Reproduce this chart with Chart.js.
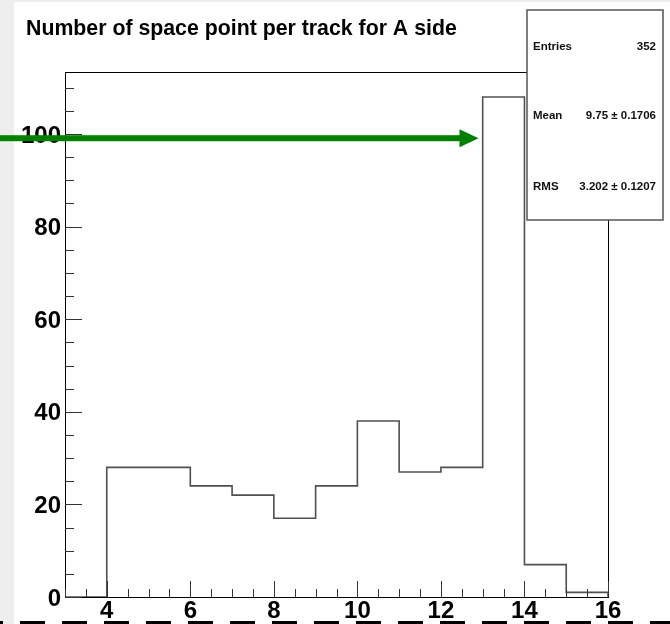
<!DOCTYPE html>
<html>
<head>
<meta charset="utf-8">
<script src="https://cdn.jsdelivr.net/npm/chart.js@4/dist/chart.umd.min.js"></script>
<style>
html,body{margin:0;padding:0;background:#fff;}
#wrap{position:absolute;left:0;top:0;width:670px;height:624px;}
</style>
</head>
<body>
<div id="wrap"><canvas id="c" width="670" height="624"></canvas></div>
<script>
// ---- data ----
const binLowEdges = [3, 4, 5, 6, 7, 8, 9, 10, 11, 12, 13, 14, 15];
const binCounts   = [0, 28, 28, 24, 22, 17, 24, 38, 27, 28, 108, 7, 1];
const xUpperEdge  = 16;
const xTickLabels = [4, 6, 8, 10, 12, 14, 16];
const yTickLabels = [0, 20, 40, 60, 80, 100];
const xMinorStep = 0.5;
const yMinorStep = 5;
const yMax = 113.4;
const titleText = "Number of space point per track for A side";
const statsNames  = ["Entries", "Mean", "RMS"];
const statsValues = ["352", "9.75 \u00b1 0.1706", "3.202 \u00b1 0.1207"];
const arrowValueY = 99.1;
const arrowTipX = 12.9;

// build histogram outline points (each bin: low edge -> count)
const histPoints = [];
binLowEdges.forEach((x, i) => {
  histPoints.push({x: x, y: i === 0 ? 0 : binCounts[i - 1]});
  histPoints.push({x: x, y: binCounts[i]});
});
histPoints.push({x: xUpperEdge, y: binCounts[binCounts.length - 1]});
histPoints.push({x: xUpperEdge, y: 0});

const FONT = "'Liberation Sans', Arial, Helvetica, sans-serif";

const decor = {
  id: 'decor',
  beforeDraw(chart) {
    const ctx = chart.ctx;
    ctx.save();
    ctx.fillStyle = '#ffffff';
    ctx.fillRect(0, 0, chart.width, chart.height);
    ctx.fillStyle = '#eeeeee';
    ctx.fillRect(0, 0, 14, chart.height);
    ctx.fillRect(0, 0, chart.width, 2);
    // title
    ctx.fillStyle = '#000';
    ctx.font = "bold 21.3px " + FONT;
    ctx.textBaseline = 'alphabetic';
    ctx.textAlign = 'left';
    ctx.fillText(titleText, 26, 35);
    ctx.restore();
  },
  afterDatasetsDraw(chart) {
    const ctx = chart.ctx;
    const a = chart.chartArea;
    const xs = chart.scales.x, ys = chart.scales.y;
    ctx.save();
    // frame
    ctx.strokeStyle = '#000';
    ctx.lineWidth = 1;
    ctx.strokeRect(Math.round(a.left) + 0.5, Math.round(a.top) + 0.5, Math.round(a.right - a.left), Math.round(a.bottom - a.top));
    // y ticks (inward)
    ctx.strokeStyle = '#333';
    ctx.beginPath();
    for (let v = 0; v <= yMax + 1e-9; v += yMinorStep) {
      const py = Math.round(ys.getPixelForValue(v)) + 0.5;
      const major = yTickLabels.includes(v);
      ctx.moveTo(a.left, py);
      ctx.lineTo(a.left + (major ? 17 : 9), py);
    }
    // x ticks (inward)
    for (let v = xs.min; v <= xs.max + 1e-9; v += xMinorStep) {
      const px = Math.round(xs.getPixelForValue(v)) + 0.5;
      const major = xTickLabels.includes(v);
      ctx.moveTo(px, a.bottom);
      ctx.lineTo(px, a.bottom - (major ? 16 : 8));
    }
    ctx.stroke();
    // stats box
    const bx = 527, by = 10, bw = 136, bh = 210;
    ctx.fillStyle = '#fff';
    ctx.fillRect(bx, by, bw, bh);
    ctx.strokeStyle = '#555';
    ctx.lineWidth = 1.5;
    ctx.strokeRect(bx, by, bw, bh);
    ctx.fillStyle = '#111';
    ctx.font = "bold 11.5px " + FONT;
    const rowY = [50, 119, 190];
    for (let i = 0; i < statsNames.length; i++) {
      ctx.textAlign = 'left';
      ctx.fillText(statsNames[i], 533, rowY[i]);
      ctx.textAlign = 'right';
      ctx.fillText(statsValues[i], 656, rowY[i]);
    }
    // green arrow
    const ay = ys.getPixelForValue(arrowValueY);
    const tip = xs.getPixelForValue(arrowTipX);
    ctx.fillStyle = '#008000';
    ctx.fillRect(0, ay - 3, tip - 17, 6);
    ctx.beginPath();
    ctx.moveTo(tip - 19, ay - 9);
    ctx.lineTo(tip, ay);
    ctx.lineTo(tip - 19, ay + 9);
    ctx.closePath();
    ctx.fill();
    // bottom dashed line
    ctx.strokeStyle = '#000';
    ctx.lineWidth = 3;
    ctx.setLineDash([25, 17]);
    ctx.lineDashOffset = 22;
    ctx.beginPath();
    ctx.moveTo(0, 622.5);
    ctx.lineTo(chart.width, 622.5);
    ctx.stroke();
    ctx.restore();
  }
};

new Chart(document.getElementById('c'), {
  type: 'line',
  data: {
    datasets: [{
      data: histPoints,
      borderColor: '#505050',
      borderWidth: 1.6,
      pointRadius: 0,
      fill: false,
      tension: 0
    }]
  },
  options: {
    responsive: false,
    animation: false,
    devicePixelRatio: 1,
    layout: {padding: {left: 0, right: 62, top: 72, bottom: 0}},
    plugins: {legend: {display: false}, tooltip: {enabled: false}, title: {display: false}},
    scales: {
      x: {
        type: 'linear',
        min: binLowEdges[0],
        max: xUpperEdge,
        grid: {display: false, drawTicks: false},
        border: {display: false},
        afterBuildTicks: s => { s.ticks = xTickLabels.map(v => ({value: v})); },
        afterFit: s => { s.height = 27; },
        ticks: {
          color: '#000',
          padding: 0,
          maxRotation: 0,
          autoSkip: false,
          font: {family: FONT, size: 24, weight: 'bold'},
          callback: v => String(v)
        }
      },
      y: {
        type: 'linear',
        min: 0,
        max: yMax,
        grid: {display: false, drawTicks: false},
        border: {display: false},
        afterBuildTicks: s => { s.ticks = yTickLabels.map(v => ({value: v})); },
        afterFit: s => { s.width = 65; },
        ticks: {
          color: '#000',
          padding: 4,
          labelOffset: 2,
          autoSkip: false,
          font: {family: FONT, size: 24, weight: 'bold'},
          callback: v => String(v)
        }
      }
    }
  },
  plugins: [decor]
});
</script>
</body>
</html>
